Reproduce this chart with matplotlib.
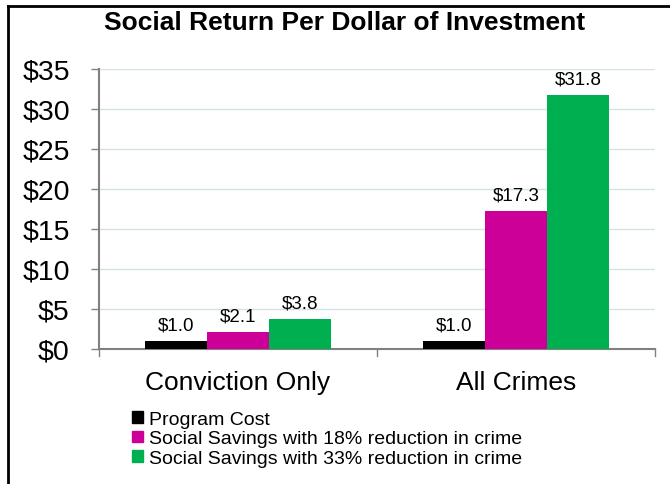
import numpy as np
import matplotlib
matplotlib.use('Agg')
import matplotlib.pyplot as plt
from matplotlib.lines import Line2D

plt.rcParams['font.family'] = ['Liberation Sans', 'DejaVu Sans']

categories = ['Conviction Only', 'All Crimes']
series_names = ['Program Cost',
                'Social Savings with 18% reduction in crime',
                'Social Savings with 33% reduction in crime']
program_cost = [1.0, 1.0]
savings_18 = [2.1, 17.3]
savings_33 = [3.8, 31.8]
colors = ['#000000', '#CC0099', '#00B050']
y_ticks = [0, 5, 10, 15, 20, 25, 30, 35]

fig = plt.figure(figsize=(6.7, 4.85), dpi=100)
ax = fig.add_axes([99/670, 1 - 350/485, 556/670, 280/485])

X = np.arange(len(categories))
width = 0.223
values = [program_cost, savings_18, savings_33]
for i, (vals, col, name) in enumerate(zip(values, colors, series_names)):
    bars = ax.bar(X + (i - 1) * width, vals, width=width, color=col, label=name, zorder=3)
    for b, v in zip(bars, vals):
        ax.text(b.get_x() + b.get_width() / 2, v + 0.9, '$%.1f' % v,
                ha='center', va='bottom', fontsize=13.5, zorder=4)

ax.set_xlim(-0.5, 1.5)
ax.set_ylim(0, 35)
ax.set_yticks(y_ticks)
ax.set_yticklabels(['$%d' % t for t in y_ticks], fontsize=20.5)
ax.yaxis.grid(True, color='#D5E3E3', linewidth=1, zorder=0)
ax.tick_params(axis='y', length=6, color='#808080', width=1, pad=15)

ax.set_xticks([0, 1])
ax.set_xticklabels(categories, fontsize=19)
ax.tick_params(axis='x', length=0, pad=15)
# category separator ticks on the x axis
for xs in [-0.5, 0.5, 1.5]:
    ax.plot([xs, xs], [0, -0.9], color='#808080', lw=1, clip_on=False, zorder=2)

for side in ['top', 'right']:
    ax.spines[side].set_visible(False)
for side in ['left', 'bottom']:
    ax.spines[side].set_color('#808080')
    ax.spines[side].set_linewidth(1.5)

fig.text(345/670, 1 - 23/485, 'Social Return Per Dollar of Investment',
         ha='center', va='center', fontsize=19, fontweight='bold')

handles = [plt.Rectangle((0, 0), 1, 1, color=c) for c in colors]
fig.legend(handles, series_names, loc='upper left',
           bbox_to_anchor=(132/670, 1 - 412/485), frameon=False,
           fontsize=14, handlelength=0.55, handleheight=0.55,
           handletextpad=0.3, labelspacing=0.12, borderaxespad=0,
           borderpad=0)

# outer frame on the left and top
fig.add_artist(Line2D([8/670, 8/670], [0, 1 - 7/485], color='black', lw=2))
fig.add_artist(Line2D([8/670, 1], [1 - 7/485, 1 - 7/485], color='black', lw=2))

plt.savefig('out.png', dpi=100)
